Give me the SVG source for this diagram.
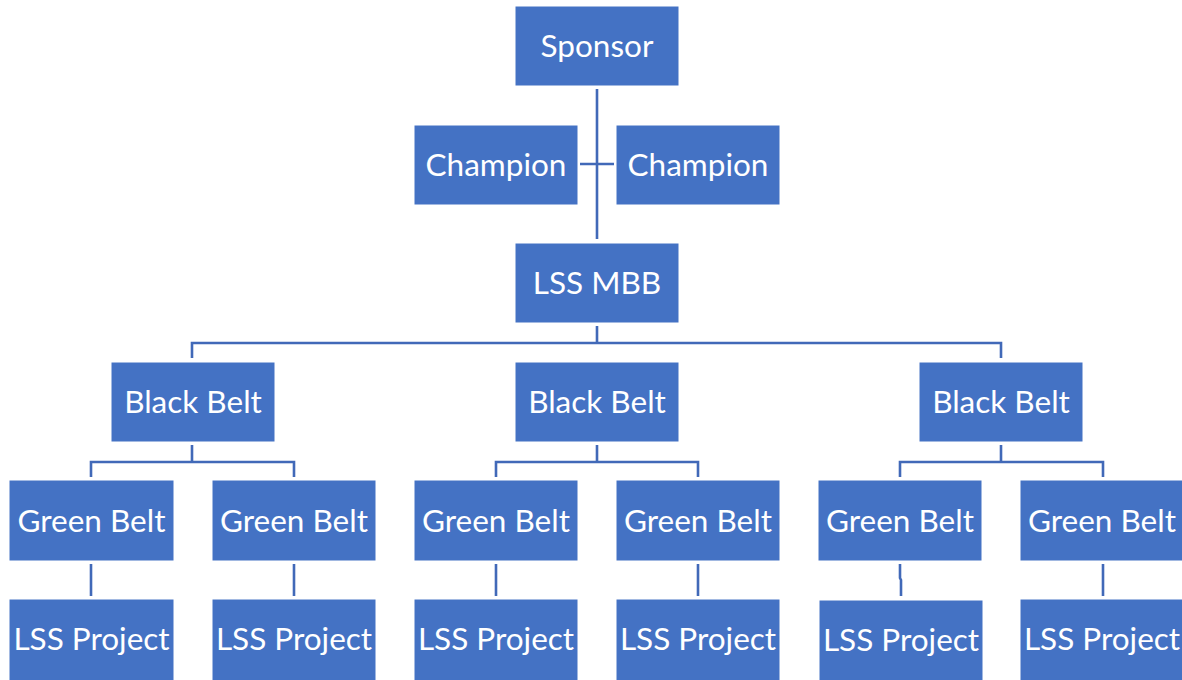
<svg xmlns="http://www.w3.org/2000/svg" width="1182" height="680" viewBox="0 0 1182 680">
<style>
.box{fill:#4472C4;stroke:#ffffff;stroke-width:1}
.lbl{font-family:Lato,"Noto Sans","Liberation Sans",sans-serif;font-size:31.5px;fill:#ffffff;text-anchor:middle}
.con{fill:none;stroke:#4169B8;stroke-width:2.6}
</style>
<rect width="1182" height="680" fill="#ffffff"/>
<g id="connectors">
<path class="con" d="M597 89V239M580 164H614"/>
<path class="con" d="M597 326V343M192 358V343H1001V358"/>
<path class="con" d="M192 445V462M91 477V462H294V477"/>
<path class="con" d="M597 445V462M496 477V462H698V477"/>
<path class="con" d="M1001 445V462M900 477V462H1103V477"/>
<path class="con" d="M91 564V596M294 564V596M496 564V596M698 564V596M1103 564V596"/>
<path class="con" d="M900 564V578L901 580V596"/>
</g>
<g id="sponsor"><rect class="box" x="515" y="6" width="164" height="80"/><text class="lbl" x="597" y="57">Sponsor</text></g>
<g id="champion1"><rect class="box" x="414" y="125" width="164" height="80"/><text class="lbl" x="496" y="176">Champion</text></g>
<g id="champion2"><rect class="box" x="616" y="125" width="164" height="80"/><text class="lbl" x="698" y="176">Champion</text></g>
<g id="mbb"><rect class="box" x="515" y="243" width="164" height="80"/><text class="lbl" x="597" y="294">LSS MBB</text></g>
<g id="bb1"><rect class="box" x="111" y="362" width="164" height="80"/><text class="lbl" x="193" y="413">Black Belt</text></g>
<g id="bb2"><rect class="box" x="515" y="362" width="164" height="80"/><text class="lbl" x="597" y="413">Black Belt</text></g>
<g id="bb3"><rect class="box" x="919" y="362" width="164" height="80"/><text class="lbl" x="1001" y="413">Black Belt</text></g>
<g id="gb1"><rect class="box" x="9" y="480" width="165" height="81"/><text class="lbl" x="91.5" y="532">Green Belt</text></g>
<g id="gb2"><rect class="box" x="212" y="480" width="164" height="81"/><text class="lbl" x="294" y="532">Green Belt</text></g>
<g id="gb3"><rect class="box" x="414" y="480" width="164" height="81"/><text class="lbl" x="496" y="532">Green Belt</text></g>
<g id="gb4"><rect class="box" x="616" y="480" width="164" height="81"/><text class="lbl" x="698" y="532">Green Belt</text></g>
<g id="gb5"><rect class="box" x="818" y="480" width="164" height="81"/><text class="lbl" x="900" y="532">Green Belt</text></g>
<g id="gb6"><rect class="box" x="1020" y="480" width="164" height="81"/><text class="lbl" x="1102" y="532">Green Belt</text></g>
<g id="p1"><rect class="box" x="9" y="599" width="165" height="85"/><text class="lbl" x="91.5" y="650">LSS Project</text></g>
<g id="p2"><rect class="box" x="212" y="599" width="164" height="85"/><text class="lbl" x="294" y="650">LSS Project</text></g>
<g id="p3"><rect class="box" x="414" y="599" width="164" height="85"/><text class="lbl" x="496" y="650">LSS Project</text></g>
<g id="p4"><rect class="box" x="616" y="599" width="164" height="85"/><text class="lbl" x="698" y="650">LSS Project</text></g>
<g id="p5"><rect class="box" x="819" y="600" width="164" height="85"/><text class="lbl" x="901" y="651">LSS Project</text></g>
<g id="p6"><rect class="box" x="1020" y="599" width="164" height="85"/><text class="lbl" x="1102" y="650">LSS Project</text></g>
</svg>
